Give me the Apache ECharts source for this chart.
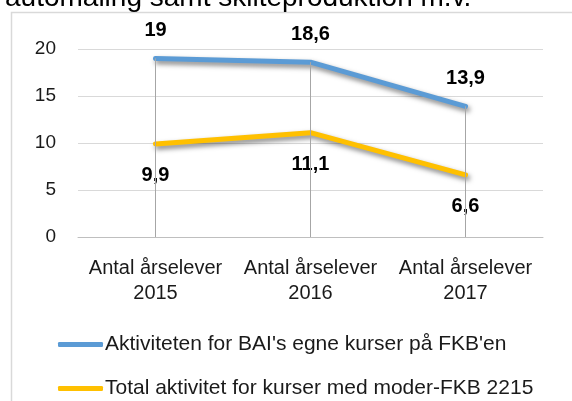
<!DOCTYPE html>
<html>
<head>
<meta charset="utf-8">
<script src="https://cdn.jsdelivr.net/npm/echarts@6/dist/echarts.min.js"></script>
<style>
  html, body { margin: 0; padding: 0; background: #fff; }
  #chart { width: 572px; height: 401px; }
</style>
</head>
<body>
<div id="chart"></div>
<script>
// data
var categories = ['Antal årselever\n2015', 'Antal årselever\n2016', 'Antal årselever\n2017'];
var seriesNames = ["Aktiviteten for BAI's egne kurser på FKB'en", 'Total aktivitet for kurser med moder-FKB 2215'];
var baiValues = [19, 18.6, 13.9];
var totalValues = [9.9, 11.1, 6.6];
var yTicks = { min: 0, max: 20, interval: 5 };

var font = '"Liberation Sans", Arial, sans-serif';
var txt = '#1a1a1a';

function comma(p) { return String(p.value).replace('.', ','); }

// drop lines from the highest point of each category down to the axis
var dropLines = categories.map(function (c, i) {
    var top = Math.max(baiValues[i], totalValues[i]);
    return [{ coord: [i, 0] }, { coord: [i, top] }];
});

// one legend per row, stacked like the original
function legendRow(name, top) {
    return {
        left: 58,
        top: top,
        padding: 0,
        itemWidth: 45,
        itemHeight: 5,
        icon: 'roundRect',
        textStyle: { fontSize: 21, color: txt, fontFamily: font, padding: [0, 0, 0, -3] },
        data: [name]
    };
}

var myChart = echarts.init(document.getElementById('chart'));

var option = {
    backgroundColor: '#fff',
    animation: false,
    textStyle: { fontFamily: font },
    graphic: [
        {
            type: 'rect',
            shape: { x: 11.5, y: 12.5, width: 620, height: 420 },
            style: { fill: 'none', stroke: '#d9d9d9', lineWidth: 1.5 },
            z: 0
        },
        {
            type: 'text',
            style: {
                text: 'automaling samt skilteproduktion m.v.',
                x: 5, y: -2,
                font: '28px ' + font,
                fill: '#000',
                verticalAlign: 'middle'
            }
        }
    ],
    grid: { left: 78, right: 29, top: 49, bottom: 164 },
    legend: [legendRow(seriesNames[0], 334), legendRow(seriesNames[1], 378)],
    xAxis: {
        type: 'category',
        data: categories,
        boundaryGap: true,
        axisLine: { lineStyle: { color: '#bfbfbf', width: 1 } },
        axisTick: { show: false },
        axisLabel: { fontSize: 20, color: txt, lineHeight: 25, margin: 19, interval: 0 }
    },
    yAxis: {
        type: 'value',
        min: yTicks.min,
        max: yTicks.max,
        interval: yTicks.interval,
        axisLine: { show: false },
        axisTick: { show: false },
        splitLine: { lineStyle: { color: '#d9d9d9', width: 1 } },
        axisLabel: { fontSize: 19, color: txt, margin: 22 }
    },
    series: [
        {
            name: seriesNames[0],
            type: 'line',
            data: baiValues,
            symbol: 'circle',
            symbolSize: 4,
            itemStyle: { color: '#5b9bd5' },
            lineStyle: {
                color: '#5b9bd5', width: 5, cap: 'round', join: 'round',
                shadowColor: 'rgba(0,0,0,0.5)', shadowBlur: 5, shadowOffsetX: 2, shadowOffsetY: 3
            },
            label: {
                show: true, position: 'top', distance: 16,
                formatter: comma, fontSize: 20, fontWeight: 'bold', color: '#000'
            },
            markLine: {
                silent: true,
                symbol: 'none',
                label: { show: false },
                lineStyle: { color: '#a6a6a6', width: 1, type: 'solid' },
                data: dropLines
            },
            z: 3
        },
        {
            name: seriesNames[1],
            type: 'line',
            data: totalValues,
            symbol: 'circle',
            symbolSize: 4,
            itemStyle: { color: '#ffc000' },
            lineStyle: {
                color: '#ffc000', width: 5, cap: 'round', join: 'round',
                shadowColor: 'rgba(0,0,0,0.5)', shadowBlur: 5, shadowOffsetX: 2, shadowOffsetY: 3
            },
            label: {
                show: true, position: 'bottom', distance: 20,
                formatter: comma, fontSize: 20, fontWeight: 'bold', color: '#000'
            },
            z: 4
        }
    ]
};

myChart.setOption(option);
</script>
</body>
</html>
